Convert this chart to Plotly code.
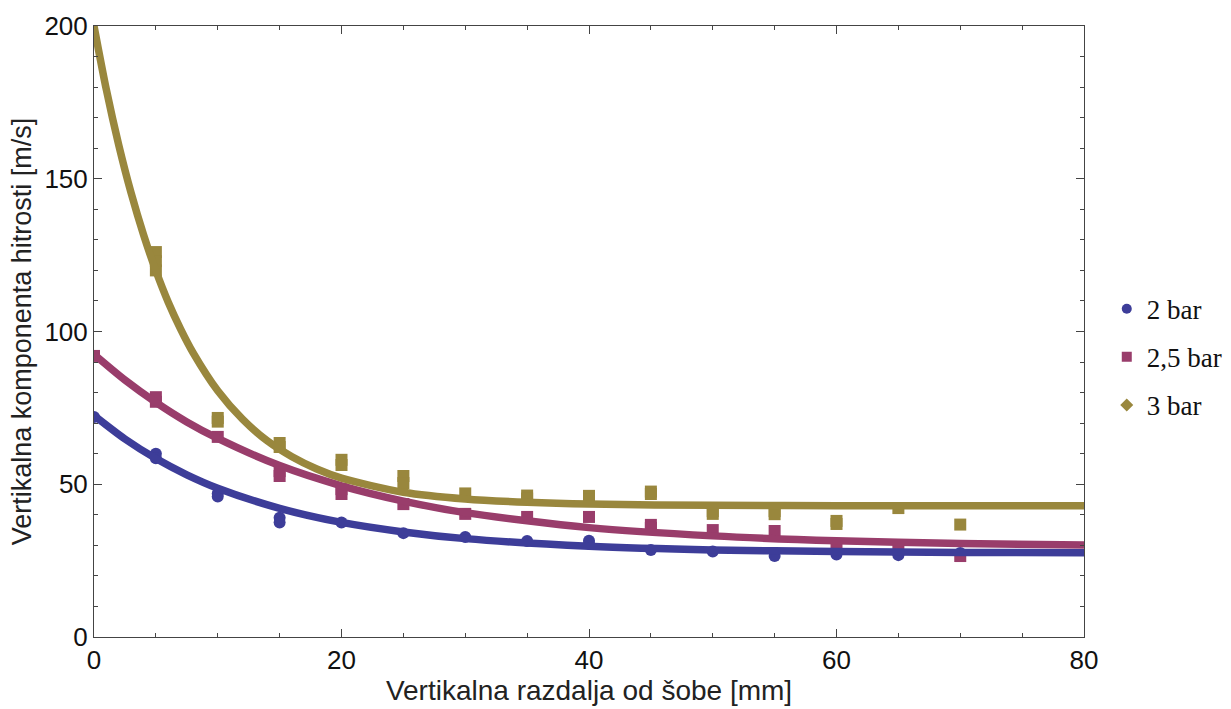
import plotly.graph_objects as go

# ---- data ----
series_names = ["2 bar", "2,5 bar", "3 bar"]
colors = ["rgb(61,61,153)", "rgb(153,61,107)", "rgb(153,135,61)"]

# measured points
x_2bar = [0, 5, 5, 10, 10, 15, 15, 20, 25, 30, 35, 40, 40, 45, 50, 55, 60, 65, 70]
y_2bar = [72, 60, 58.5, 47, 46, 39, 37.5, 37.5, 34, 32.7, 31.4, 31.5, 30.5, 28.5, 28, 26.5, 27, 26.8, 27.5]

x_25bar = [0, 5, 5, 10, 15, 15, 20, 20, 25, 30, 35, 40, 45, 45, 50, 55, 60, 65, 70]
y_25bar = [92, 78.5, 77, 65.5, 54.3, 52.7, 48.4, 46.8, 43.5, 40.3, 39.3, 39.3, 36.7, 35.7, 35, 34.7, 30, 30, 26.5]

x_3bar = [5, 5, 5, 10, 10, 15, 15, 20, 20, 25, 25, 30, 35, 35, 40, 40, 45, 45, 50, 50, 55, 55, 60, 60, 65, 70]
y_3bar = [126, 123, 120, 71.7, 70.5, 63.5, 62.2, 58, 56.3, 52.7, 50.4, 47, 46.3, 45.3, 46.2, 45, 47.6, 46.8, 41.2, 40.3, 41.2, 40.2, 38, 37, 42.2, 36.8]

# fitted curves
cx_2bar = [0, 2.5, 5, 7.5, 10, 15, 20, 25, 30, 40, 50, 60, 70, 80]
cy_2bar = [72.5, 64.8, 58.4, 53.1, 48.7, 42.1, 37.5, 34.4, 32.2, 29.7, 28.5, 28.0, 27.7, 27.6]

cx_25bar = [0, 2.5, 5, 7.5, 10, 15, 20, 25, 30, 40, 50, 60, 70, 80]
cy_25bar = [92.5, 84.1, 76.8, 70.4, 65.0, 56.1, 49.5, 44.5, 40.7, 35.8, 33.1, 31.5, 30.6, 30.1]

cx_3bar = [0, 1, 2, 3, 4, 5, 6, 7, 8, 10, 12, 14, 16, 18, 20, 25, 30, 35, 40, 50, 60, 80]
cy_3bar = [200, 179.1, 161.0, 145.3, 131.7, 119.9, 109.6, 100.8, 93.1, 80.6, 71.3, 64.2, 59.0, 55.0, 52.0, 47.4, 45.2, 44.1, 43.5, 43.1, 43.0, 43.0]

x_ticks = [0, 20, 40, 60, 80]
y_ticks = [0, 50, 100, 150, 200]

fig = go.Figure()

curves = [(cx_2bar, cy_2bar), (cx_25bar, cy_25bar), (cx_3bar, cy_3bar)]
points = [(x_2bar, y_2bar), (x_25bar, y_25bar), (x_3bar, y_3bar)]
data_symbols = ["circle", "square", "square"]
legend_symbols = ["circle", "square", "diamond"]

for i in range(3):
    px, py = points[i]
    fig.add_trace(go.Scatter(x=px, y=py, mode="markers", showlegend=False,
                             marker=dict(symbol=data_symbols[i], size=12, color=colors[i]),
                             cliponaxis=True))
for i in range(3):
    cx, cy = curves[i]
    fig.add_trace(go.Scatter(x=cx, y=cy, mode="lines", showlegend=False,
                             line=dict(color=colors[i], width=7.5, shape="spline", smoothing=0.8),
                             cliponaxis=True))
for i in range(3):
    fig.add_trace(go.Scatter(x=[None], y=[None], mode="markers", name=series_names[i],
                             legendgroup=series_names[i],
                             marker=dict(symbol=legend_symbols[i], size=10, color=colors[i])))

axis_common = dict(
    showline=True, linecolor="#444", linewidth=1, mirror="allticks",
    ticks="inside", ticklen=8, tickwidth=1, tickcolor="#444",
    showgrid=False, zeroline=False,
    tickfont=dict(family="Liberation Sans, Arial, sans-serif", size=26, color="#111"),
)

fig.update_layout(
    width=1231, height=709,
    margin=dict(l=94, r=147, t=26, b=72, autoexpand=False),
    plot_bgcolor="white", paper_bgcolor="white",
    xaxis=dict(range=[0, 80], tickvals=x_ticks,
               minor=dict(dtick=5, ticks="inside", ticklen=4, tickcolor="#444", showgrid=False),
               title=dict(text="Vertikalna razdalja od šobe [mm]", standoff=2,
                          font=dict(family="Liberation Sans, Arial, sans-serif", size=28, color="#222")),
               **axis_common),
    yaxis=dict(range=[0, 200], tickvals=y_ticks,
               minor=dict(dtick=10, ticks="inside", ticklen=4, tickcolor="#444", showgrid=False),
               title=dict(text="Vertikalna komponenta hitrosti [m/s]", standoff=4,
                          font=dict(family="Liberation Sans, Arial, sans-serif", size=27, color="#222")),
               **axis_common),
    legend=dict(x=1.023, y=0.458, xanchor="left", yanchor="middle",
                font=dict(family="Liberation Serif, Times New Roman, serif", size=27, color="#111"),
                tracegroupgap=10, traceorder="grouped", bgcolor="rgba(0,0,0,0)"),
)

fig.write_html("out.html")
